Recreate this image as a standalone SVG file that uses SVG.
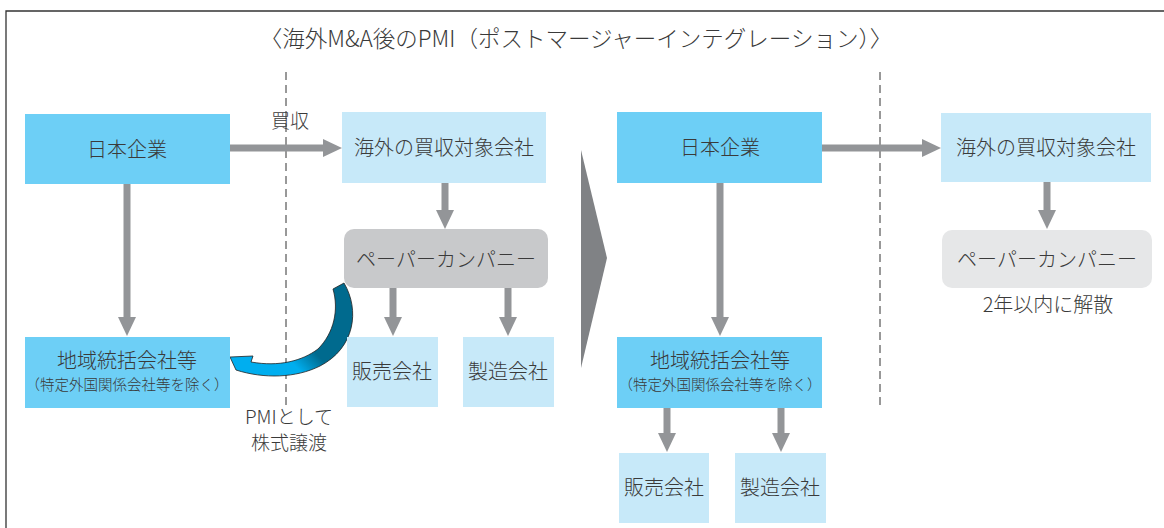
<svg xmlns="http://www.w3.org/2000/svg" width="1164" height="528" viewBox="0 0 1164 528">
<style>
  text { font-family: "Noto Sans CJK JP", "Noto Sans", sans-serif; fill: #3a3a3a; text-anchor: middle; font-weight: 300; }
  .lbl { font-size: 20px; }
  .sub { font-size: 14.5px; }
  .dark { fill: #6dcff6; }
  .light { fill: #c7e9f9; }
  .arr { fill: #939598; }
  .dash { stroke: #333; stroke-width: 1; stroke-dasharray: 8 5; fill: none; }
</style>
<defs>
  <linearGradient id="blueg" gradientUnits="userSpaceOnUse" x1="345" y1="290" x2="260" y2="372">
    <stop offset="0" stop-color="#006a8e"/>
    <stop offset="0.55" stop-color="#006a8e"/>
    <stop offset="0.75" stop-color="#00aeef"/>
    <stop offset="1" stop-color="#00aeef"/>
  </linearGradient>
</defs>
<rect width="1164" height="528" fill="#fff"/>
<g id="frame">
  <path d="M6,528 V11 H1164" fill="none" stroke="#333" stroke-width="1.3"/>
</g>
<text id="title" x="576" y="47" style="font-size:22.5px">〈海外M&amp;A後のPMI（ポストマージャーインテグレーション）〉</text>
<g id="dividers">
  <line class="dash" x1="286" y1="72" x2="286" y2="408"/>
  <line class="dash" x1="880" y1="72" x2="880" y2="408"/>
</g>
<g id="transition">
  <polygon points="581,150 607,258 581,368" fill="#808285"/>
</g>
<g id="connectors">
  <rect class="arr" x="230" y="144.5" width="94" height="7"/>
  <polygon class="arr" points="323,139 342,148 323,157"/>
  <rect class="arr" x="822" y="144.5" width="101" height="7"/>
  <polygon class="arr" points="922,139 941,148 922,157"/>
  <rect class="arr" x="123.5" y="184" width="7" height="134"/>
  <polygon class="arr" points="118,317 136,317 127,336"/>
  <rect class="arr" x="441.5" y="183" width="7" height="29"/>
  <polygon class="arr" points="436,210 454,210 445,229"/>
  <rect class="arr" x="389.5" y="288" width="7" height="30"/>
  <polygon class="arr" points="384,317 402,317 393,336"/>
  <rect class="arr" x="504.5" y="288" width="7" height="30"/>
  <polygon class="arr" points="499,317 517,317 508,336"/>
  <rect class="arr" x="716.5" y="183" width="7" height="135"/>
  <polygon class="arr" points="711,317 729,317 720,336"/>
  <rect class="arr" x="1043.5" y="182" width="7" height="30"/>
  <polygon class="arr" points="1038,210 1056,210 1047,229"/>
  <rect class="arr" x="663.5" y="408" width="7" height="26"/>
  <polygon class="arr" points="658,433 676,433 667,452"/>
  <rect class="arr" x="777.5" y="404" width="7" height="30"/>
  <polygon class="arr" points="772,433 790,433 781,452"/>
  <path id="pmi-arrow" d="M344,283 C360,310 355,348 320,366 C296,378 264,379 236,370 L230,357 L253,356 L251,362 C279,367 302,361 318,349 C334,333 339,310 333,289 Z" fill="url(#blueg)" stroke="#222" stroke-width="0.8"/>
</g>
<g id="label-baishu"><text class="lbl" x="290" y="128" style="font-size:19px">買収</text></g>
<g id="label-pmi">
  <text x="289" y="424" style="font-size:19px">PMIとして</text>
  <text x="289" y="450" style="font-size:19px">株式譲渡</text>
</g>
<g id="L-japan">
  <rect class="dark" x="25" y="114" width="205" height="70"/>
  <text class="lbl" x="127" y="157">日本企業</text>
</g>
<g id="L-target">
  <rect class="light" x="342" y="112" width="204" height="71"/>
  <text class="lbl" x="444" y="155">海外の買収対象会社</text>
</g>
<g id="L-paper">
  <rect x="344" y="229" width="204" height="59" rx="10" fill="#c8c9cb"/>
  <text class="lbl" x="446" y="267">ペーパーカンパニー</text>
</g>
<g id="L-regional">
  <rect class="dark" x="25" y="337" width="205" height="71"/>
  <text class="lbl" x="127" y="368">地域統括会社等</text>
  <text class="sub" x="127" y="390">（特定外国関係会社等を除く）</text>
</g>
<g id="L-sales">
  <rect class="light" x="347" y="337" width="91" height="70"/>
  <text class="lbl" x="392" y="379">販売会社</text>
</g>
<g id="L-mfg">
  <rect class="light" x="463" y="337" width="91" height="70"/>
  <text class="lbl" x="508" y="379">製造会社</text>
</g>
<g id="R-japan">
  <rect class="dark" x="617" y="112" width="205" height="71"/>
  <text class="lbl" x="720" y="155">日本企業</text>
</g>
<g id="R-target">
  <rect class="light" x="941" y="113" width="210" height="69"/>
  <text class="lbl" x="1046" y="155">海外の買収対象会社</text>
</g>
<g id="R-paper">
  <rect x="942" y="230" width="210" height="58" rx="10" fill="#e6e7e8"/>
  <text class="lbl" x="1047" y="267">ペーパーカンパニー</text>
  <text class="lbl" x="1048" y="312">2年以内に解散</text>
</g>
<g id="R-regional">
  <rect class="dark" x="617" y="337" width="205" height="71"/>
  <text class="lbl" x="720" y="368">地域統括会社等</text>
  <text class="sub" x="720" y="390">（特定外国関係会社等を除く）</text>
</g>
<g id="R-sales">
  <rect class="light" x="619" y="453" width="90" height="70"/>
  <text class="lbl" x="664" y="495">販売会社</text>
</g>
<g id="R-mfg">
  <rect class="light" x="735" y="453" width="91" height="70"/>
  <text class="lbl" x="780" y="495">製造会社</text>
</g>
</svg>
